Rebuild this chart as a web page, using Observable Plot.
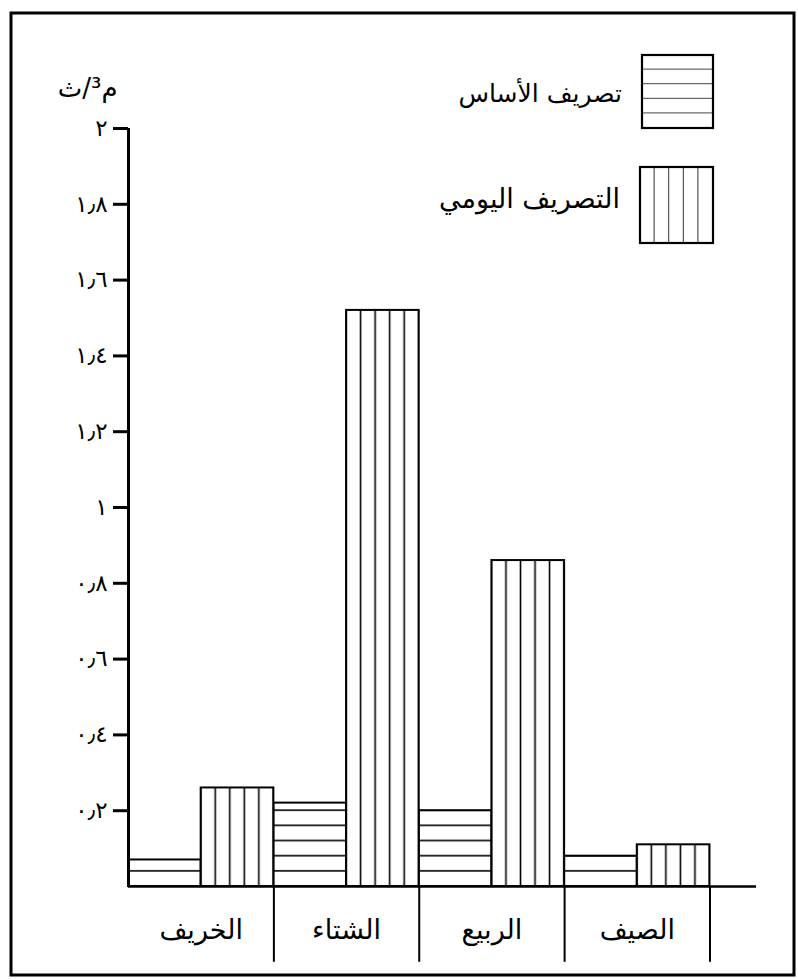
<!DOCTYPE html>
<html><head><meta charset="utf-8">
<script src="https://cdn.jsdelivr.net/npm/d3@7"></script>
<script src="https://cdn.jsdelivr.net/npm/@observablehq/plot@0.6"></script>
<style>body{margin:0;background:#fff} svg{font-family:"DejaVu Sans"}</style>
</head><body><div id="chart"></div>
<script>
const seasons = ["الخريف", "الشتاء", "الربيع", "الصيف"];
const baseFlow = [0.07, 0.22, 0.20, 0.08];
const dailyFlow = [0.26, 1.52, 0.86, 0.11];
const yTicks = [0.2, 0.4, 0.6, 0.8, 1, 1.2, 1.4, 1.6, 1.8, 2];
const seriesNames = ["تصريف الأساس", "التصريف اليومي"];
const unitLabel = "\u202Bم³/ث\u202C";

const rows = seasons.map((s, i) => ({i, season: s, base: baseFlow[i], daily: dailyFlow[i]}));
const arabicDigits = "٠١٢٣٤٥٦٧٨٩";
const fmt = v => String(+(+v).toFixed(1)).replace(/\d/g, d => arabicDigits[d]).replace(".", "٫");

const plot = Plot.plot({
  width: 798, height: 979,
  marginLeft: 128, marginRight: 42, marginTop: 128, marginBottom: 93,
  x: {domain: [0, 4.32], axis: null},
  y: {domain: [0, 2], axis: null},
  style: {fontFamily: "DejaVu Sans", background: "white", color: "black"},
  marks: [
    Plot.rectY(rows, {x1: d => d.i, x2: d => d.i + 0.5, y1: 0, y2: "base", fill: "url(#hatchH)", stroke: "black", strokeWidth: 2}),
    Plot.rectY(rows, {x1: d => d.i + 0.5, x2: d => d.i + 1, y1: 0, y2: "daily", fill: "url(#hatchV)", stroke: "black", strokeWidth: 2}),
    Plot.ruleX(rows, {x: d => d.i + 1, y1: 0, y2: -0.2, strokeWidth: 2}),
    Plot.ruleX([0], {y1: 0, y2: 2, strokeWidth: 3}),
    Plot.ruleY([0], {strokeWidth: 2.5}),
    Plot.text(rows, {x: d => d.i + 0.5, y: -0.115, text: "season", fontSize: 27, fill: "black"}),
    Plot.axisY({ticks: yTicks, tickSize: 15, tickPadding: 6, tickFormat: fmt, fontSize: 23, strokeWidth: 3, label: null, fill: "black"}),
    Plot.text([unitLabel], {frameAnchor: "top-left", dx: -11, dy: -50, textAnchor: "end", fontSize: 26, fill: "black"})
  ]
});

const svg = d3.select(plot);
const xs = plot.scale("x"), ys = plot.scale("y");
const unitW = (xs.apply(1) - xs.apply(0)) / 10;
const unitH = ys.apply(0) - ys.apply(0.04);
const defs = svg.insert("defs", ":first-child");

const pv = defs.append("pattern").attr("id", "hatchV").attr("patternUnits", "userSpaceOnUse")
  .attr("x", xs.apply(0.5) - unitW / 2).attr("y", 0).attr("width", unitW).attr("height", 20);
pv.append("rect").attr("width", unitW).attr("height", 20).attr("fill", "white");
pv.append("line").attr("x1", unitW / 2).attr("x2", unitW / 2).attr("y1", 0).attr("y2", 20).attr("stroke", "black").attr("stroke-width", 1.6);

const ph = defs.append("pattern").attr("id", "hatchH").attr("patternUnits", "userSpaceOnUse")
  .attr("x", 0).attr("y", ys.apply(0) - unitH / 2).attr("width", 20).attr("height", unitH);
ph.append("rect").attr("width", 20).attr("height", unitH).attr("fill", "white");
ph.append("line").attr("y1", unitH / 2).attr("y2", unitH / 2).attr("x1", 0).attr("x2", 20).attr("stroke", "black").attr("stroke-width", 1.6);

const lv = defs.append("pattern").attr("id", "legV").attr("patternUnits", "objectBoundingBox")
  .attr("width", 0.2).attr("height", 1);
lv.append("rect").attr("width", 14.6).attr("height", 80).attr("fill", "white");
lv.append("line").attr("x1", 14.6).attr("x2", 14.6).attr("y1", 0).attr("y2", 80).attr("stroke", "black").attr("stroke-width", 1.6);

const lh = defs.append("pattern").attr("id", "legH").attr("patternUnits", "objectBoundingBox")
  .attr("width", 1).attr("height", 0.2);
lh.append("rect").attr("width", 80).attr("height", 14.6).attr("fill", "white");
lh.append("line").attr("y1", 14.6).attr("y2", 14.6).attr("x1", 0).attr("x2", 80).attr("stroke", "black").attr("stroke-width", 1.6);

const leg = svg.append("g").attr("font-family", "DejaVu Sans").attr("fill", "black");
const legItems = [
  {name: seriesNames[0], fill: "url(#legH)", box: [642, 55, 71, 73], tx: 622, ty: 95, fs: 25},
  {name: seriesNames[1], fill: "url(#legV)", box: [640, 167, 73, 76], tx: 620, ty: 200, fs: 27}
];
legItems.forEach(it => {
  leg.append("rect").attr("x", it.box[0]).attr("y", it.box[1]).attr("width", it.box[2]).attr("height", it.box[3])
    .attr("fill", it.fill).attr("stroke", "black").attr("stroke-width", 2.2);
  leg.append("text").attr("x", it.tx).attr("y", it.ty).attr("text-anchor", "end").attr("dominant-baseline", "middle")
    .attr("font-size", it.fs).text(it.name);
});

svg.append("rect").attr("x", 11).attr("y", 13).attr("width", 783).attr("height", 962)
  .attr("fill", "none").attr("stroke", "black").attr("stroke-width", 3);

document.getElementById("chart").appendChild(plot);
</script></body></html>
